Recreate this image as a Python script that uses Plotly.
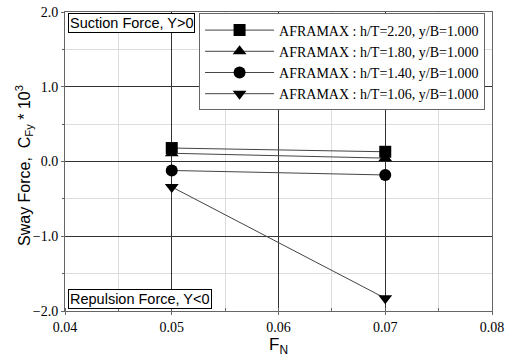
import plotly.graph_objects as go

fn = [0.05, 0.07]
names = [
    "AFRAMAX : h/T=2.20, y/B=1.000",
    "AFRAMAX : h/T=1.80, y/B=1.000",
    "AFRAMAX : h/T=1.40, y/B=1.000",
    "AFRAMAX : h/T=1.06, y/B=1.000",
]
cfy_220 = [0.18, 0.13]
cfy_180 = [0.11, 0.045]
cfy_140 = [-0.12, -0.18]
cfy_106 = [-0.34, -1.83]
series = [cfy_220, cfy_180, cfy_140, cfy_106]
symbols = ["square", "triangle-up", "circle", "triangle-down"]

fig = go.Figure()
for nm, ys, sym in zip(names, series, symbols):
    fig.add_trace(go.Scatter(
        x=fn, y=ys, name=nm, mode="lines+markers",
        line=dict(color="#444444", width=1),
        marker=dict(symbol=sym, size=12, color="black"),
    ))

fig.update_layout(
    width=512, height=360,
    margin=dict(l=65, r=20, t=12, b=49, autoexpand=False),
    paper_bgcolor="white", plot_bgcolor="white",
    showlegend=True,
    legend=dict(
        x=0.314, y=0.995, xanchor="left", yanchor="top",
        bordercolor="#666666", borderwidth=1, bgcolor="white",
        font=dict(family="Liberation Serif", size=14, color="black"),
        tracegroupgap=0, itemwidth=69,
    ),
    font=dict(family="Liberation Sans", color="black"),
)
fig.update_xaxes(
    range=[0.04, 0.08], dtick=0.01, tickformat=".2f", automargin=False,
    showgrid=True, gridcolor="#333333", gridwidth=1,
    ticks="outside", ticklen=3, tickcolor="#666666",
    minor=dict(dtick=0.005, showgrid=True, gridcolor="#dddddd", ticks="inside", ticklen=3, tickcolor="#666666"),
    showline=True, linecolor="#666666", mirror=True,
    tickfont=dict(family="Liberation Serif", size=14, color="black"),
    zeroline=False,
)
fig.update_yaxes(
    range=[-2.0, 2.0], dtick=1.0, tickformat=".1f", automargin=False,
    showgrid=True, gridcolor="#333333", gridwidth=1,
    ticks="outside", ticklen=3, tickcolor="#666666",
    minor=dict(dtick=0.5, showgrid=True, gridcolor="#dddddd", ticks="outside", ticklen=2, tickcolor="#666666"),
    showline=True, linecolor="#666666", mirror=True,
    tickfont=dict(family="Liberation Serif", size=14, color="black"),
    zeroline=False,
)
fig.add_annotation(
    x=0.5, y=0, xref="paper", yref="paper", xanchor="center", yanchor="middle",
    text="F<sub>N</sub>", showarrow=False,
    font=dict(family="Liberation Sans", size=17, color="black"),
    yshift=-35,
)
fig.add_annotation(
    x=0, y=0.485, xref="paper", yref="paper", xanchor="center", yanchor="middle",
    text="Sway Force,  C<sub>Fy</sub> * 10<sup>3</sup>", textangle=-90, showarrow=False,
    font=dict(family="Liberation Sans", size=16, color="black"),
    xshift=-41,
)
fig.add_annotation(
    x=0, y=1, xref="paper", yref="paper", xanchor="left", yanchor="top",
    text="Suction Force, Y>0", showarrow=False,
    font=dict(family="Liberation Sans", size=14.5, color="black"),
    bgcolor="white", bordercolor="black", borderwidth=1, borderpad=1,
    xshift=3, yshift=-1,
)
fig.add_annotation(
    x=0, y=0, xref="paper", yref="paper", xanchor="left", yanchor="bottom",
    text="Repulsion Force, Y<0", showarrow=False,
    font=dict(family="Liberation Sans", size=14.5, color="black"),
    bgcolor="white", bordercolor="black", borderwidth=1, borderpad=1,
    xshift=3, yshift=2,
)
fig.write_html("out.html")
